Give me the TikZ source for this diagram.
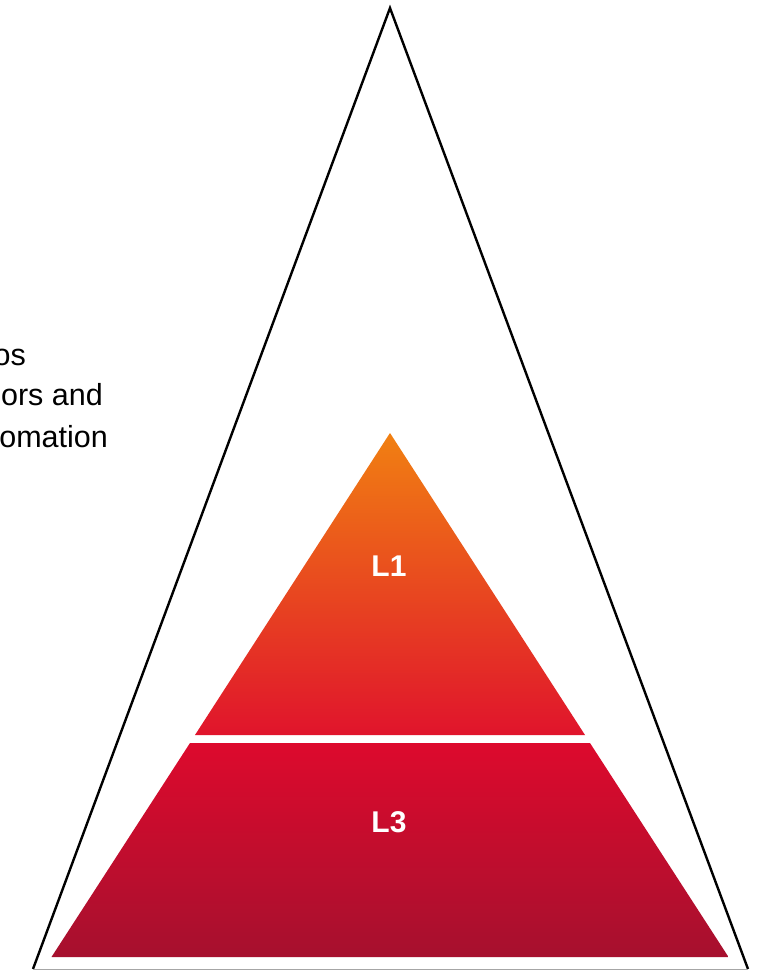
\documentclass[tikz,border=0pt]{standalone}
\usepackage{fontspec}
\setmainfont{Liberation Sans}
\begin{document}
\begin{tikzpicture}[x=1pt,y=-1pt,
  sidetext/.style={anchor=base east,inner sep=0pt,font=\fontsize{30.5}{36}\selectfont,text=black},
  levellabel/.style={inner sep=0pt,font=\fontsize{30}{36}\selectfont\bfseries,text=white},
  outline/.style={draw=black,line width=2.4pt,line join=miter}]
\definecolor{ortop}{RGB}{241,128,18}
\definecolor{redmid}{RGB}{224,20,44}
\definecolor{redtop}{RGB}{221,10,45}
\definecolor{redbot}{RGB}{166,16,46}
\useasboundingbox (0,0) rectangle (757,970);
\fill[white] (0,0) rectangle (757,970);
% outer triangle
\coordinate (apex) at (390,8);
\coordinate (bl) at (33,969);
\coordinate (br) at (748,969);
\draw[outline] (bl) -- (apex) -- (br);
\draw[line width=1pt,draw=black!35] (bl) -- (br);
% pyramid levels
\shade[top color=ortop,bottom color=redmid] (390,433) -- (585,735) -- (195,735) -- cycle;
\shade[top color=redtop,bottom color=redbot] (190,743) -- (590,743) -- (728.5,957) -- (51.5,957) -- cycle;
\node[levellabel] (l1) at (389,566) {L1};
\node[levellabel] (l3) at (389,822) {L3};
% clipped side text
\begin{scope}
\clip (0,0) rectangle (757,970);
\node[sidetext] (t1) at (26,365) {os};
\node[sidetext] (t2) at (103,405) {ors and};
\node[sidetext] (t3) at (108,447) {omation};
\end{scope}
\end{tikzpicture}
\end{document}
